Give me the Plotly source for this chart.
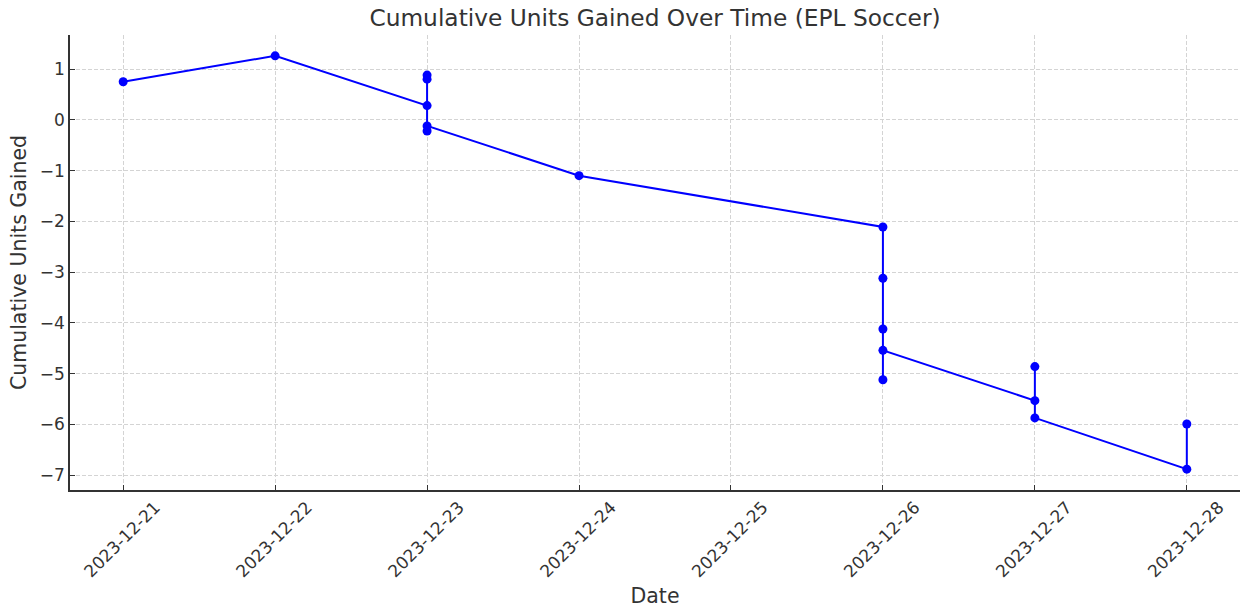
import plotly.graph_objects as go

dates = ["2023-12-21", "2023-12-22",
         "2023-12-23", "2023-12-23", "2023-12-23", "2023-12-23", "2023-12-23",
         "2023-12-24",
         "2023-12-26", "2023-12-26", "2023-12-26", "2023-12-26", "2023-12-26",
         "2023-12-27", "2023-12-27", "2023-12-27",
         "2023-12-28", "2023-12-28"]
cumulative_units = [0.75, 1.26,
                    0.28, 0.88, 0.80, -0.22, -0.12,
                    -1.10,
                    -2.11, -3.12, -4.12, -5.12, -4.54,
                    -5.53, -4.86, -5.87,
                    -6.88, -5.99]
tick_dates = ["2023-12-21", "2023-12-22", "2023-12-23", "2023-12-24",
              "2023-12-25", "2023-12-26", "2023-12-27", "2023-12-28"]
y_ticks = [-7, -6, -5, -4, -3, -2, -1, 0, 1]

fig = go.Figure()
fig.add_trace(go.Scatter(
    x=dates, y=cumulative_units, mode="lines+markers",
    line=dict(color="#0000ff", width=2),
    marker=dict(color="#0000ff", size=9),
    showlegend=False,
))

W, H = 1241, 609
font_family = "DejaVu Sans, sans-serif"
grid_color = "#d4d4d4"
fig.update_layout(
    width=W, height=H,
    margin=dict(l=70, r=1, t=35, b=119),
    paper_bgcolor="white", plot_bgcolor="white",
    title=dict(text="Cumulative Units Gained Over Time (EPL Soccer)",
               x=0.5, xref="paper", xanchor="center",
               y=1 - 18 / H, yref="container", yanchor="middle",
               font=dict(family=font_family, size=23.3, color="#333333")),
    font=dict(family=font_family, color="#333333"),
)
fig.update_xaxes(
    type="date", automargin=False,
    range=["2023-12-20 15:36", "2023-12-28 08:24"],
    tickvals=tick_dates, ticktext=tick_dates,
    tickangle=-45, tickfont=dict(size=17, color="#333333"),
    ticklabelshift=32, ticklabelstandoff=-1,
    ticks="inside", ticklen=5, tickcolor="#333333",
    showgrid=True, gridcolor=grid_color, griddash="4px,2px", gridwidth=1,
    showline=True, linecolor="#333333", linewidth=1.5, mirror=False,
    zeroline=False,
    title=dict(text="Date", font=dict(size=20.5, color="#333333"), standoff=8),
)
fig.update_yaxes(
    automargin=False,
    range=[-7.29, 1.67],
    tickvals=y_ticks, ticktext=[("\u2212" + str(-v)) if v < 0 else str(v) for v in y_ticks],
    tickfont=dict(size=17, color="#333333"),
    ticks="inside", ticklen=5, tickcolor="#333333",
    showgrid=True, gridcolor=grid_color, griddash="4px,2px", gridwidth=1,
    showline=True, linecolor="#333333", linewidth=1.5, mirror=False,
    zeroline=False,
    title=dict(text="Cumulative Units Gained", font=dict(size=20.5, color="#333333"), standoff=8),
)

# remove the browser's default 8px body margin so the figure fills the window
fig.write_html("out.html", config={"displayModeBar": False},
               post_script="document.body.style.margin='0';")
